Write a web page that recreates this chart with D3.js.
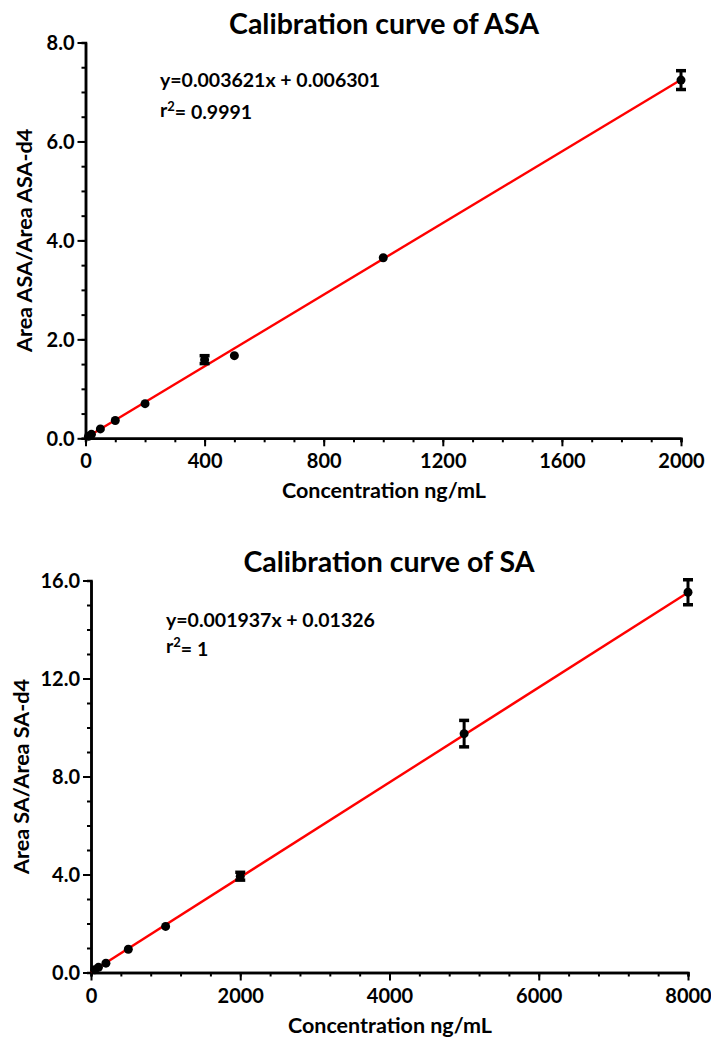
<!DOCTYPE html>
<html>
<head>
<meta charset="utf-8">
<script src="https://cdn.jsdelivr.net/npm/d3@7/dist/d3.min.js"></script>
<style>
  html, body { margin: 0; padding: 0; background: #fff; }
  svg { display: block; }
  text { font-family: Lato, "Open Sans", sans-serif; font-weight: bold; fill: #000; }
</style>
</head>
<body>
<svg id="chart" width="711" height="1039"></svg>
<script>
// Aspirin (ASA) calibration standards: concentration (ng/mL), area ratio, SD
const asaConc  = [10, 20, 50, 100, 200, 400, 500, 1000, 2000];
const asaRatio = [0.04, 0.08, 0.19, 0.36, 0.70, 1.59, 1.67, 3.65, 7.24];
const asaSD    = [0, 0, 0, 0, 0, 0.08, 0, 0, 0.19];
const asaSlope = 0.003621, asaIntercept = 0.006301;
const asaXTicks = [0, 400, 800, 1200, 1600, 2000];
const asaYTicks = [0, 2, 4, 6, 8];

// Salicylic acid (SA) calibration standards
const saConc  = [50, 100, 200, 500, 1000, 2000, 5000, 8000];
const saRatio = [0.11, 0.21, 0.38, 0.95, 1.88, 3.93, 9.75, 15.52];
const saSD    = [0, 0, 0, 0, 0, 0.16, 0.54, 0.51];
const saSlope = 0.001937, saIntercept = 0.01326;
const saXTicks = [0, 2000, 4000, 6000, 8000];
const saYTicks = [0, 4, 8, 12, 16];

const svg = d3.select("#chart");

function drawCalibration(o) {
  const g = svg.append("g");
  const x = d3.scaleLinear().domain(o.xDomain).range([o.left, o.right]);
  const y = d3.scaleLinear().domain(o.yDomain).range([o.bottom, o.top]);

  // title
  g.append("text")
    .attr("x", o.titleX).attr("y", o.titleY)
    .attr("text-anchor", "middle")
    .style("font-size", "28.5px")
    .text(o.title);

  // minor ticks
  const xAxisMinor = d3.axisBottom(x).tickValues(d3.range(o.xDomain[0], o.xDomain[1] + 1e-9, o.xMinor))
    .tickSize(4).tickFormat("");
  const yAxisMinor = d3.axisLeft(y).tickValues(d3.range(o.yDomain[0], o.yDomain[1] + 1e-9, o.yMinor))
    .tickSize(4).tickFormat("");
  g.append("g").attr("transform", `translate(0,${o.bottom})`).call(xAxisMinor).call(styleAxis);
  g.append("g").attr("transform", `translate(${o.left},0)`).call(yAxisMinor).call(styleAxis);

  // major ticks with labels
  const xAxis = d3.axisBottom(x).tickValues(o.xTicks).tickSize(8).tickSizeOuter(0)
    .tickFormat(d3.format("d"));
  const yAxis = d3.axisLeft(y).tickValues(o.yTicks).tickSize(8).tickSizeOuter(0)
    .tickPadding(3).tickFormat(d3.format(".1f"));
  const gx = g.append("g").attr("transform", `translate(0,${o.bottom})`).call(xAxis).call(styleAxis);
  const gy = g.append("g").attr("transform", `translate(${o.left},0)`).call(yAxis).call(styleAxis);
  gx.selectAll("text").style("font-size", "20px").attr("y", 30).attr("dy", 0);
  gy.selectAll("text").style("font-size", "20px").attr("dy", "0.36em");

  // axis titles
  g.append("text")
    .attr("x", o.xTitleX).attr("y", o.bottom + o.xTitleGap)
    .attr("text-anchor", "middle")
    .style("font-size", "21.5px")
    .text("Concentration ng/mL");
  g.append("text")
    .attr("transform", `translate(${o.yTitleX},${(o.top + o.bottom) / 2}) rotate(-90)`)
    .attr("text-anchor", "middle")
    .style("font-size", "21.5px")
    .text(o.yTitle);

  // regression line
  const xs = [o.xDomain[0], o.xDomain[1]];
  g.append("line")
    .attr("x1", x(xs[0])).attr("y1", y(o.slope * xs[0] + o.intercept))
    .attr("x2", x(xs[1])).attr("y2", y(o.slope * xs[1] + o.intercept))
    .attr("stroke", "#ff0000").attr("stroke-width", 2.4);

  const pts = o.conc.map((c, i) => ({ c, v: o.ratio[i], sd: o.sd[i] }));

  // error bars
  const eb = g.append("g").selectAll("g").data(pts.filter(d => d.sd > 0)).join("g");
  eb.append("line")
    .attr("x1", d => x(d.c)).attr("x2", d => x(d.c))
    .attr("y1", d => y(d.v - d.sd)).attr("y2", d => y(d.v + d.sd))
    .attr("stroke", "#000").attr("stroke-width", 3);
  [-1, 1].forEach(s => {
    eb.append("line")
      .attr("x1", d => x(d.c) - 5).attr("x2", d => x(d.c) + 5)
      .attr("y1", d => y(d.v + s * d.sd)).attr("y2", d => y(d.v + s * d.sd))
      .attr("stroke", "#000").attr("stroke-width", 3.5);
  });

  // data points
  g.append("g").selectAll("circle").data(pts).join("circle")
    .attr("cx", d => x(d.c)).attr("cy", d => y(d.v))
    .attr("r", 4.5).attr("fill", "#000");

  // equation and r²
  g.append("text")
    .attr("x", o.eqX).attr("y", o.eqY)
    .style("font-size", "19.5px")
    .text(o.equation);
  const r = g.append("text")
    .attr("x", o.eqX).attr("y", o.eqY + o.rGap)
    .style("font-size", "19.5px");
  r.append("tspan").text("r");
  r.append("tspan").attr("dy", "-0.45em").style("font-size", "13px").text("2");
  r.append("tspan").attr("dy", "0.45em").text(o.rText);
}

function styleAxis(sel) {
  sel.select(".domain").attr("stroke", "#000").attr("stroke-width", 2.5);
  sel.selectAll(".tick line").attr("stroke", "#000").attr("stroke-width", 2);
}

drawCalibration({
  title: "Calibration curve of ASA", titleX: 384, titleY: 34,
  left: 85.5, right: 681, top: 42.5, bottom: 438.3,
  xDomain: [0, 2000], yDomain: [0, 8], xTicks: asaXTicks, yTicks: asaYTicks,
  xMinor: 100, yMinor: 0.5,
  xTitleX: 384, xTitleGap: 60,
  yTitle: "Area ASA/Area ASA-d4", yTitleX: 32,
  conc: asaConc, ratio: asaRatio, sd: asaSD,
  slope: asaSlope, intercept: asaIntercept,
  equation: "y=0.003621x + 0.006301", rText: "= 0.9991",
  eqX: 160, eqY: 87, rGap: 29.5
});

drawCalibration({
  title: "Calibration curve of SA", titleX: 389, titleY: 572,
  left: 91, right: 688, top: 580.5, bottom: 972.5,
  xDomain: [0, 8000], yDomain: [0, 16], xTicks: saXTicks, yTicks: saYTicks,
  xMinor: 400, yMinor: 1,
  xTitleX: 390, xTitleGap: 60,
  yTitle: "Area SA/Area SA-d4", yTitleX: 29,
  conc: saConc, ratio: saRatio, sd: saSD,
  slope: saSlope, intercept: saIntercept,
  equation: "y=0.001937x + 0.01326", rText: "= 1",
  eqX: 166, eqY: 627, rGap: 26
});
</script>
</body>
</html>
